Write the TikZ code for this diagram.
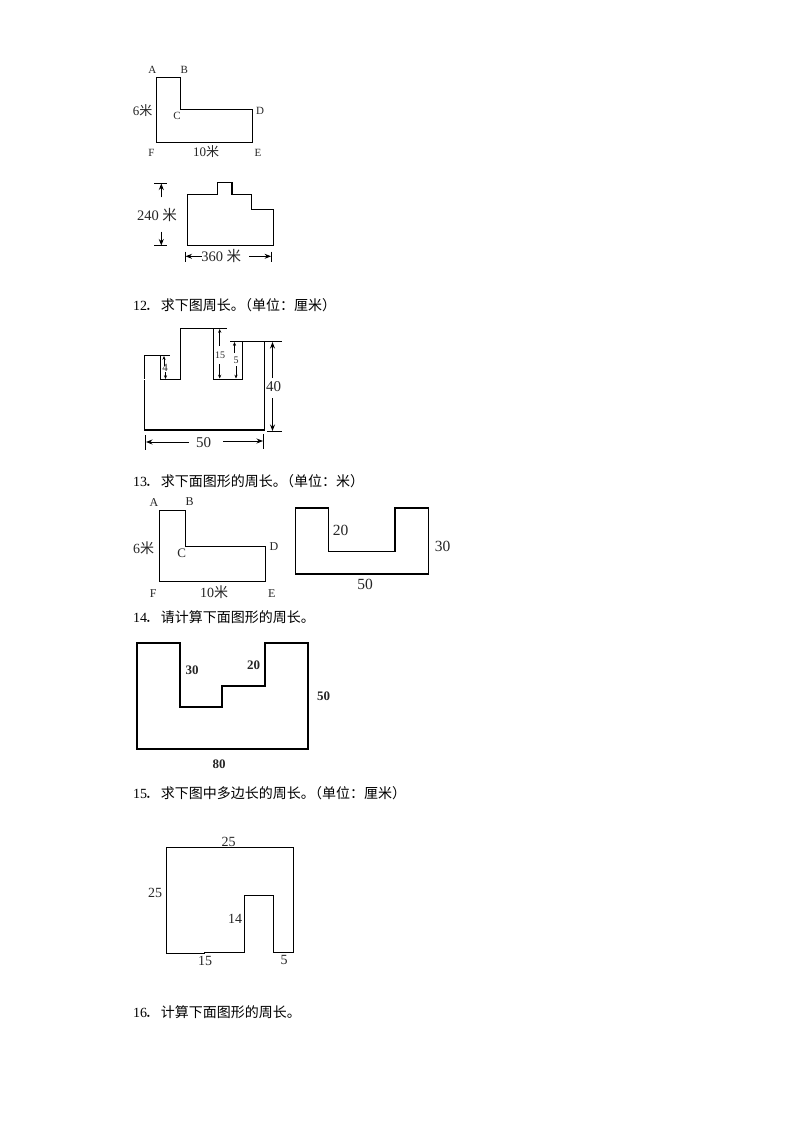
\documentclass[tikz,border=0pt]{standalone}
\usepackage{fontspec}
\setmainfont{Liberation Serif}
\newfontfamily\cjk{Noto Sans CJK SC}
\usetikzlibrary{arrows.meta}
\newcommand{\fs}[1]{\fontsize{#1bp}{#1bp}\selectfont}
\tikzset{
  lab/.style={inner sep=0pt,outer sep=0pt,text=black!85},
  q/.style={inner sep=0pt,outer sep=0pt,anchor=west,font=\fs{14},text=black},
  fig/.style={draw=black,line width=1.1bp,line join=miter},
  dimline/.style={draw=black,line width=.8bp},
  dimarr/.style={draw=black,line width=1bp,-{Stealth[length=6.5bp,width=5bp]}},
  smallarr/.style={draw=black,line width=.7bp,-{Stealth[length=3.8bp,width=3.2bp]}}
}
\newcommand{\qdot}{\hbox to 14bp{\kern-2bp ．\hss}}
\newcommand{\qbr}{。\kern-7bp （}
\begin{document}
\begin{tikzpicture}[x=1bp,y=-1bp]
\useasboundingbox[fill=white] (0,0) rectangle (794,1123);

% Figure 1
\draw[fig] (156.5,77.3) -- (180.5,77.3) -- (180.5,109.8) -- (252.3,109.8) -- (252.3,142.3) -- (156.5,142.3) -- cycle;
\node[lab,font=\fs{11}] (a1) at (152.3,69.5) {A};
\node[lab,font=\fs{11}] (b1) at (184.3,69.5) {B};
\node[lab,font=\fs{11}] (c1) at (177,116) {C};
\node[lab,font=\fs{11}] (d1) at (260,110.5) {D};
\node[lab,font=\fs{11}] (e1) at (258,153) {E};
\node[lab,font=\fs{11}] (f1) at (151.5,153) {F};
\node[lab,font=\fs{13}] (w1) at (142.5,111) {6{\cjk 米}};
\node[lab,font=\fs{13}] (l1) at (206,151.5) {10{\cjk 米}};

% Figure 2
\draw[fig] (187.3,194.3) -- (217.3,194.3) -- (217.3,182.3) -- (232,182.3) -- (232,194.3) -- (251.3,194.3) -- (251.3,209.7) -- (273.3,209.7) -- (273.3,245.7) -- (187.3,245.7) -- cycle;
\coordinate (t2l) at (154,183.3);
\coordinate (t2r) at (166.7,183.3);
\coordinate (t2a) at (161.3,197.3);
\coordinate (t2b) at (161.3,183.5);
\coordinate (b2l) at (154,245.7);
\coordinate (b2r) at (166.7,245.7);
\coordinate (b2a) at (161.3,231.7);
\coordinate (b2b) at (161.3,245.5);
\draw[dimline] (t2l) -- (t2r);
\draw[dimline] (b2l) -- (b2r);
\draw[dimarr] (t2a) -- (t2b);
\draw[dimarr] (b2a) -- (b2b);
\node[lab,font=\fs{14.5}] (h2) at (157,214.7) {240 {\cjk 米}};
\coordinate (l2t) at (185.3,251.5);
\coordinate (l2b) at (185.3,261.7);
\coordinate (r2t) at (271.3,251.5);
\coordinate (r2b) at (271.3,261.7);
\coordinate (l2s) at (201.7,256.3);
\coordinate (l2e) at (185.5,256.3);
\coordinate (r2s) at (249.3,256.3);
\coordinate (r2e) at (271.1,256.3);
\draw[dimline] (l2t) -- (l2b);
\draw[dimline] (r2t) -- (r2b);
\draw[dimarr] (l2s) -- (l2e);
\draw[dimarr] (r2s) -- (r2e);
\node[lab,font=\fs{14.5}] (w2) at (221.2,256) {360 {\cjk 米}};

% Q12
\node[q] (q12) at (133,305.5) {12{\cjk\qdot 求下图周长\qbr 单位：厘米）}};
\draw[fig] (144.7,378.7) -- (144.7,355.3) -- (170,355.3);
\draw[fig] (160.7,355.3) -- (160.7,379.3) -- (180.3,379.3) -- (180.3,328.3) -- (226.7,328.3);
\draw[fig] (213.3,328.3) -- (213.3,379.3) -- (242.3,379.3) -- (242.3,341.3);
\draw[fig] (230,341.3) -- (281.7,341.3);
\draw[fig] (264.7,341.3) -- (264.7,430) -- (144.7,430) -- (144.7,379.7);
\draw[dimline] (267,431.7) -- (281.7,431.7);
\draw[dimline] (145.5,435) -- (145.5,450);
\draw[dimline] (263.5,434) -- (263.5,449);
\coordinate (f3a) at (272.5,378);
\coordinate (f3b) at (272.5,342);
\coordinate (f3c) at (272.5,398);
\coordinate (f3d) at (272.5,431);
\draw[dimarr] (f3a) -- (f3b);
\draw[dimarr] (f3c) -- (f3d);
\node[lab,font=\fs{15}] (h3) at (273.5,387) {40};
\coordinate (f3e) at (189,442);
\coordinate (f3f) at (146,442);
\coordinate (f3g) at (223,441);
\coordinate (f3h) at (263,441);
\draw[dimarr] (f3e) -- (f3f);
\draw[dimarr] (f3g) -- (f3h);
\node[lab,font=\fs{15}] (w3) at (203.5,443) {50};
\draw[smallarr] (164,366) -- (164,356);
\draw[smallarr] (165.5,372) -- (165.5,379);
\node[lab,font=\fs{11}] (n4) at (165,367.5) {4};
\draw[smallarr] (219.7,346) -- (219.7,329);
\draw[smallarr] (219.7,364) -- (219.7,378.5);
\node[lab,font=\fs{10}] (n15) at (220,355.5) {15};
\draw[smallarr] (234.5,353) -- (234.5,342);
\draw[smallarr] (236,366) -- (236,378.5);
\node[lab,font=\fs{10}] (n5) at (236,360.5) {5};

% Q13
\node[q] (q13) at (133,481.5) {13{\cjk\qdot 求下面图形的周长\qbr 单位：米）}};
\draw[fig] (159.3,510.7) -- (185.7,510.7) -- (185.7,546.3) -- (265.3,546.3) -- (265.3,581.3) -- (159.3,581.3) -- cycle;
\node[lab,font=\fs{12}] (a4) at (154,502.5) {A};
\node[lab,font=\fs{12}] (b4) at (189.7,502) {B};
\node[lab,font=\fs{13}] (c4) at (181.7,553) {C};
\node[lab,font=\fs{12}] (d4) at (274,546.5) {D};
\node[lab,font=\fs{12}] (e4) at (271.7,593.5) {E};
\node[lab,font=\fs{12}] (f4) at (153.3,593.5) {F};
\node[lab,font=\fs{14}] (w4) at (143.5,548) {6{\cjk 米}};
\node[lab,font=\fs{14}] (l4) at (214,592.5) {10{\cjk 米}};
\draw[fig,line width=1.3bp] (295.3,508) -- (328.3,508) -- (328.3,551.7) -- (395,551.7) -- (395,508) -- (428.7,508) -- (428.7,574) -- (295.3,574) -- cycle;
\node[lab,font=\fs{15.5}] (n20) at (340.5,530) {20};
\node[lab,font=\fs{15.5}] (n30) at (442.5,546) {30};
\node[lab,font=\fs{15.5}] (n50) at (365,584) {50};

% Q14
\node[q] (q14) at (133,617.5) {14{\cjk\qdot 请计算下面图形的周长。}};
\draw[fig,line width=2bp] (137,643.3) -- (179.7,643.3) -- (179.7,707) -- (222.3,707) -- (222.3,685.7) -- (265,685.7) -- (265,643.3) -- (307.7,643.3) -- (307.7,749) -- (137,749) -- cycle;
\node[lab,font=\fs{13}\bfseries] (m30) at (192,670) {30};
\node[lab,font=\fs{13}\bfseries] (m20) at (253.5,665) {20};
\node[lab,font=\fs{13}\bfseries] (m50) at (323.5,696) {50};
\node[lab,font=\fs{13}\bfseries] (m80) at (219,764.5) {80};

% Q15
\node[q] (q15) at (133,793.5) {15{\cjk\qdot 求下图中多边长的周长\qbr 单位：厘米）}};
\draw[fig] (166.7,953) -- (166.7,847.3) -- (293.3,847.3) -- (293.3,952.3) -- (273.3,952.3) -- (273.3,895.3) -- (244.3,895.3) -- (244.3,952.3) -- (204.3,952.3) -- (204.3,953.3) -- (165.5,953.3);
\node[lab,font=\fs{14}] (p25t) at (228.5,841.5) {25};
\node[lab,font=\fs{14}] (p25l) at (155,893) {25};
\node[lab,font=\fs{14}] (p14) at (235,919) {14};
\node[lab,font=\fs{14}] (p15) at (205,960.5) {15};
\node[lab,font=\fs{14}] (p5) at (284,960) {5};

% Q16
\node[q] (q16) at (133,1012.5) {16{\cjk\qdot 计算下面图形的周长。}};
\end{tikzpicture}
\end{document}
